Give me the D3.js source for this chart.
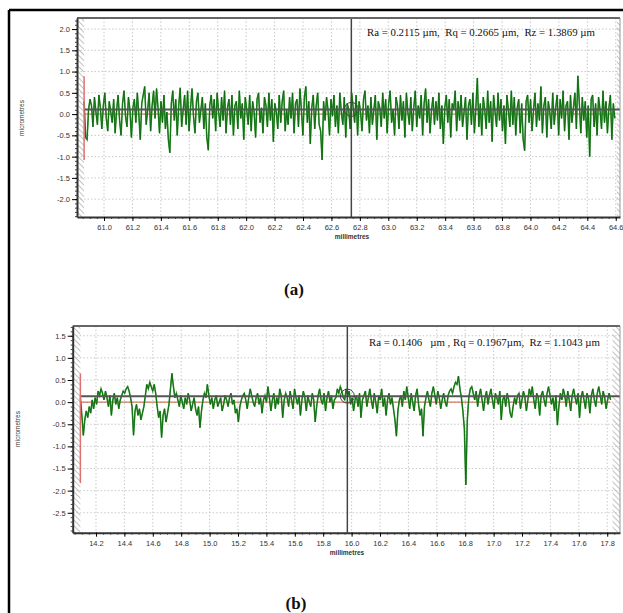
<!DOCTYPE html>
<html><head><meta charset="utf-8">
<script src="https://cdn.jsdelivr.net/npm/d3@7"></script>
<style>body{margin:0;background:#fff}</style></head>
<body>
<svg id="c" width="623" height="613"></svg>
<script>
// ---------- data ----------
const panelLabels = ["(a)", "(b)"];
const roughnessText = [
  "Ra = 0.2115 µm,  Rq = 0.2665 µm,  Rz = 1.3869 µm",
  "Ra = 0.1406   µm , Rq = 0.1967µm,  Rz = 1.1043 µm"
];
const xAxisTitle = "millimetres";
const yAxisTitle = "micrometres";
const aXTicks = [61.0,61.2,61.4,61.6,61.8,62.0,62.2,62.4,62.6,62.8,63.0,63.2,63.4,63.6,63.8,64.0,64.2,64.4,64.6];
const aYTicks = [2.0,1.5,1.0,0.5,0.0,-0.5,-1.0,-1.5,-2.0];
const bXTicks = [14.2,14.4,14.6,14.8,15.0,15.2,15.4,15.6,15.8,16.0,16.2,16.4,16.6,16.8,17.0,17.2,17.4,17.6,17.8];
const bYTicks = [1.5,1.0,0.5,0.0,-0.5,-1.0,-1.5,-2.0,-2.5];
const aStart = 60.86, aStep = 0.0104;
const bStart = 14.09, bStep = 0.0104;
const aMean = 0.11, bMean = 0.135;
const aCursor = 62.74, bCursor = 15.97;
const aRedBar = [0.89, -1.08], bRedBar = [0.65, -1.83];
const aProfile = [
 .30,-.55,-.60,.10,.35,.20,-.30,.40,.05,-.25,.45,.15,-.35,.20,.50,-.10,-.40,.30,.05,-.20,
 .35,-.45,.10,.45,-.15,-.50,.25,.55,-.05,-.30,.40,.10,-.55,.15,.35,-.20,.50,.00,-.60,.25,
 .45,.65,-.25,.10,.50,-.40,.20,.55,-.10,.60,.15,-.45,.30,-.20,.45,-.35,.05,-.60,-.91,.25,
 .55,-.15,.35,-.50,.20,.62,-.30,.10,.45,-.25,.55,-.40,.15,.60,-.05,-.45,.30,.50,-.20,.10,
 .40,-.35,.25,-.55,-.85,.20,.45,-.10,.35,-.40,.50,.05,-.30,.40,-.15,.55,-.45,.15,.35,-.25,
 .45,-.50,.20,.30,-.35,.55,-.10,.25,-.60,.40,.10,-.25,.45,-.40,.30,.05,-.55,.35,.50,-.20,
 .15,-.45,.40,.20,-.30,.50,-.15,.35,-.65,.25,.05,-.35,.45,-.20,.30,.55,-.40,.10,-.25,.40,
 -.10,.50,-.45,.25,.35,-.30,.60,.10,-.50,.40,.65,-.20,.30,-.70,.15,.45,-.35,.20,.50,-.25,
 -.40,-1.08,.30,-.15,.40,.10,-.50,.35,-.05,.45,-.30,.20,-.45,.50,.05,-.25,.40,-.55,.25,.10,
 -.35,.50,.15,-.20,.45,-.50,.30,.05,-.40,.35,.55,-.15,.20,-.45,.40,-.25,.10,.45,-.60,.30,
 .15,-.30,.50,-.10,.35,-.45,.25,.55,-.20,.10,-.50,.40,.20,-.35,.45,-.15,.30,-.55,.50,.05,
 -.25,.40,-.40,.15,.55,-.30,.20,-.10,.45,-.50,.25,.60,-.20,.35,-.45,.10,.40,-.25,.30,-.15,
 .50,-.35,.20,-.70,.15,.45,-.20,.35,-.55,.25,.10,.55,-.40,.30,-.15,.45,-.30,.05,.40,-.60,
 .20,.35,-.25,.50,-.45,.15,.85,-.30,.25,-.50,.40,.10,-.35,.55,-.20,.30,-.65,.45,.05,-.30,
 .50,-.15,.35,-.40,.20,-.70,.45,.10,-.30,.55,-.25,.40,-.50,.15,.35,-.45,.25,-.60,-.86,.30,
 .45,-.20,.35,-.40,.10,.50,-.30,.25,-.15,.65,-.45,.20,.40,-.55,.30,.05,-.35,.50,-.25,.15,
 .45,-.50,.35,-.10,.55,-.40,.20,.30,-.60,.45,-.20,.15,.50,-.35,.90,.25,-.45,.40,-.15,.30,
 -.55,.20,-1.00,.35,.45,-.30,.25,-.50,.40,.10,-.35,.55,-.20,.30,-.45,.15,.45,-.60,.25,-.10
];
const bProfile = [
 .10,-.30,-.75,-.40,-.20,-.35,-.10,-.25,.05,-.15,.10,-.05,.25,.15,.30,.20,.05,.25,.10,-.10,
 .15,-.30,.05,.20,-.05,.10,-.15,.05,.15,.25,.20,.30,.35,.25,.10,-.10,-.75,-.20,-.05,-.30,
 -.15,-.40,-.25,-.10,.15,.40,.30,.45,.35,.25,.40,.20,-.10,-.35,-.20,-.80,-.30,-.15,-.45,-.25,
 -.05,.30,.65,.35,.10,.20,.05,-.10,.15,.00,-.15,.10,-.05,.20,.05,-.20,-.05,.10,-.15,-.30,
 -.10,-.58,-.20,.05,.20,.10,.40,.15,-.05,.10,-.15,.05,.15,-.10,.00,.10,-.20,-.05,.15,.05,
 -.10,.10,.20,-.05,.05,-.25,-.15,-.45,-.10,.05,.15,.20,.05,-.15,.10,.30,.15,.00,-.10,.10,
 .20,-.05,.10,-.25,.05,.15,.00,.35,.10,-.20,.05,.20,-.15,.10,-.05,.30,.15,-.35,.05,.20,
 .10,-.10,.25,.05,-.15,.30,.10,-.05,.15,-.30,.05,.25,.10,-.20,.15,.00,-.10,.20,.05,-.45,
 -.10,.15,.30,.05,-.05,.20,-.20,.10,.25,.00,.15,-.15,.05,.10,.30,.20,.35,.25,.10,.05,
 .30,.15,.25,-.05,.10,-.20,.05,.15,-.10,.20,-.35,.05,.15,.25,-.10,.10,.30,.05,-.15,.20,
 .00,-.25,.15,.05,.30,-.10,.10,-.30,.05,.20,-.05,.10,-.15,-.40,-.77,-.20,.05,.15,-.10,.25,
 .05,.35,.10,-.15,.20,.00,-.20,.15,.30,-.05,-.30,-.15,-.77,-.10,.10,.25,.05,-.10,.20,.35,
 .15,-.05,.25,.10,-.15,.05,.20,.00,-.10,.15,.25,.30,.20,.35,.45,.40,.59,.30,.10,-.20,
 -.60,-1.87,-.40,.10,.30,.35,.20,.05,.25,-.10,.15,.30,.05,-.20,.10,.25,-.05,.15,.30,.05,
 -.15,.20,.10,-.05,.25,-.40,.05,.15,-.10,.20,.05,-.25,-.35,-.10,.10,-.05,.15,.20,-.15,.05,
 .25,.10,-.20,.05,.30,.15,.35,.05,-.15,.20,.10,-.30,.15,.25,.05,-.10,.20,.35,.15,-.05,
 .10,-.20,.15,-.52,-.10,.20,.05,.30,.15,-.10,.25,.05,-.20,.15,.30,.10,-.05,.20,-.35,.10,
 .25,.05,-.15,.20,.10,-.25,.15,.30,.05,-.10,.20,.35,.15,-.05,.25,.10,-.15,.05,.20,.05
];

// ---------- drawing ----------
const svg = d3.select("#c");
const defs = svg.append("defs");
const pat = defs.append("pattern").attr("id","hatch").attr("patternUnits","userSpaceOnUse")
  .attr("width",4).attr("height",4).attr("patternTransform","rotate(-45)");
pat.append("line").attr("x1",0).attr("y1",0).attr("x2",0).attr("y2",4).attr("stroke","#999").attr("stroke-width",1.2);

// outer frame
svg.append("line").attr("x1",9).attr("y1",10).attr("x2",623).attr("y2",10).attr("stroke","#000").attr("stroke-width",2.5);
svg.append("line").attr("x1",9).attr("y1",10).attr("x2",9).attr("y2",613).attr("stroke","#000").attr("stroke-width",2.5);

const fmt = v => (v<0?"-":"") + Math.abs(v).toFixed(1);
const sans = "Liberation Sans, Arial, sans-serif";
const serif = "Liberation Serif, Times New Roman, serif";

function panel(cfg){
  const x = d3.scaleLinear().domain(cfg.xDom).range([cfg.left, cfg.right]);
  const y = d3.scaleLinear().domain(cfg.yDom).range([cfg.bottom, cfg.top]);
  const g = svg.append("g");
  const xs = cfg.profile.map((v,i)=>cfg.start + i*cfg.step);
  const xEnd = xs[xs.length-1];

  // grid
  g.selectAll(".gx").data(cfg.xTicks).join("line")
    .attr("x1",d=>x(d)).attr("x2",d=>x(d)).attr("y1",cfg.top).attr("y2",cfg.bottom)
    .attr("stroke","#bbb").attr("stroke-width",0.8).attr("stroke-dasharray","1.5,2");
  g.selectAll(".gy").data(cfg.yTicks).join("line")
    .attr("x1",cfg.left).attr("x2",cfg.right).attr("y1",d=>y(d)).attr("y2",d=>y(d))
    .attr("stroke","#bbb").attr("stroke-width",0.8).attr("stroke-dasharray","1.5,2");

  // hatched margins
  g.append("rect").attr("x",cfg.left).attr("y",cfg.top).attr("width",x(cfg.start)-cfg.left).attr("height",cfg.bottom-cfg.top).attr("fill","url(#hatch)");
  g.append("rect").attr("x",x(xEnd)+2).attr("y",cfg.top).attr("width",Math.max(0,cfg.right-x(xEnd)-2)).attr("height",cfg.bottom-cfg.top).attr("fill","url(#hatch)");

  // zero line (reference)
  g.append("line").attr("x1",x(cfg.start)).attr("x2",x(xEnd)).attr("y1",y(0)).attr("y2",y(0))
    .attr("stroke","#c0603a").attr("stroke-width",1);

  // profile
  const line = d3.line().x((d,i)=>x(xs[i])).y(d=>y(d));
  g.append("path").datum(cfg.profile).attr("d",line).attr("fill","none")
    .attr("stroke","#3a9a3a").attr("stroke-width",1.6).attr("stroke-linejoin","miter");
  g.append("path").datum(cfg.profile).attr("d",line).attr("fill","none")
    .attr("stroke","#0b640b").attr("stroke-width",0.8).attr("stroke-linejoin","miter");

  // mean line
  g.append("line").attr("x1",x(cfg.start)).attr("x2",cfg.right).attr("y1",y(cfg.mean)).attr("y2",y(cfg.mean))
    .attr("stroke","#555").attr("stroke-width",2);

  // red bar
  g.append("line").attr("x1",x(cfg.start)).attr("x2",x(cfg.start)).attr("y1",y(cfg.red[0])).attr("y2",y(cfg.red[1]))
    .attr("stroke","#e07070").attr("stroke-width",1.5);

  // cursor
  g.append("line").attr("x1",x(cfg.cursor)).attr("x2",x(cfg.cursor)).attr("y1",cfg.top).attr("y2",cfg.bottom)
    .attr("stroke","#444").attr("stroke-width",1.5);
  g.append("circle").attr("cx",x(cfg.cursor)).attr("cy",y(cfg.mean)).attr("r",7)
    .attr("fill","none").attr("stroke","#444").attr("stroke-width",1);

  // frame
  g.append("line").attr("x1",cfg.left).attr("x2",cfg.right).attr("y1",cfg.top).attr("y2",cfg.top).attr("stroke","#666").attr("stroke-width",2);
  g.append("line").attr("x1",cfg.right).attr("x2",cfg.right).attr("y1",cfg.top).attr("y2",cfg.bottom).attr("stroke","#999").attr("stroke-width",1);

  // axes
  const minorX = d3.range(Math.ceil(cfg.xDom[0]*20), Math.floor(cfg.xDom[1]*20)+1).map(v=>v/20);
  g.append("g").attr("transform",`translate(0,${cfg.bottom})`)
    .call(d3.axisBottom(x).tickValues(minorX).tickSize(2).tickFormat(""))
    .call(a=>a.select(".domain").remove())
    .selectAll("line").attr("stroke","#444");
  const ax = g.append("g").attr("transform",`translate(0,${cfg.bottom})`)
    .call(d3.axisBottom(x).tickValues(cfg.xTicks).tickSize(4).tickPadding(4).tickFormat(d=>d.toFixed(1)).tickSizeOuter(0));
  ax.select(".domain").attr("stroke","#333").attr("stroke-width",2);
  ax.selectAll("text").attr("font-family",sans).attr("font-size",7.5).attr("fill","#333");

  const minorY = d3.range(Math.ceil(cfg.yDom[0]*10), Math.floor(cfg.yDom[1]*10)+1).map(v=>v/10);
  g.append("g").attr("transform",`translate(${cfg.left},0)`)
    .call(d3.axisLeft(y).tickValues(minorY).tickSize(2).tickFormat(""))
    .call(a=>a.select(".domain").remove())
    .selectAll("line").attr("stroke","#444");
  const ay = g.append("g").attr("transform",`translate(${cfg.left},0)`)
    .call(d3.axisLeft(y).tickValues(cfg.yTicks).tickSize(5).tickPadding(2).tickFormat(fmt).tickSizeOuter(0));
  ay.select(".domain").attr("stroke","#333").attr("stroke-width",2);
  ay.selectAll("text").attr("font-family",sans).attr("font-size",7.5).attr("fill","#333");

  // titles
  g.append("text").attr("x",cfg.xTitleX).attr("y",cfg.bottom+22).attr("text-anchor","middle")
    .attr("font-family",sans).attr("font-size",6.5).attr("font-weight","bold").attr("fill","#333").text(xAxisTitle);
  g.append("text").attr("transform",`translate(${cfg.yTitleX},${cfg.yTitleY}) rotate(-90)`).attr("text-anchor","middle")
    .attr("font-family",sans).attr("font-size",6.5).attr("fill","#333").text(yAxisTitle);

  // roughness annotation
  g.append("text").attr("x",cfg.annX).attr("y",cfg.annY)
    .attr("font-family",serif).attr("font-size",10.8).attr("fill","#111")
    .style("white-space","pre").text(cfg.ann);

  // panel label
  svg.append("text").attr("x",cfg.labX).attr("y",cfg.labY).attr("text-anchor","middle")
    .attr("font-family",serif).attr("font-weight","bold").attr("font-size",17)
    .attr("fill","#111").text(cfg.lab);
}

panel({xDom:[60.81,64.63], yDom:[-2.42,2.26], left:77, right:620, top:18, bottom:217,
  xTicks:aXTicks, yTicks:aYTicks, profile:aProfile, start:aStart, step:aStep,
  mean:aMean, red:aRedBar, cursor:aCursor, xTitleX:352, yTitleX:24, yTitleY:118,
  ann:roughnessText[0], annX:367, annY:36, lab:panelLabels[0], labX:294, labY:295});

panel({xDom:[14.036,17.89], yDom:[-2.95,1.72], left:72.7, right:620, top:326, bottom:532.7,
  xTicks:bXTicks, yTicks:bYTicks, profile:bProfile, start:bStart, step:bStep,
  mean:bMean, red:bRedBar, cursor:bCursor, xTitleX:347, yTitleX:20, yTitleY:429,
  ann:roughnessText[1], annX:369, annY:346, lab:panelLabels[1], labX:296, labY:609});
</script>
</body></html>
